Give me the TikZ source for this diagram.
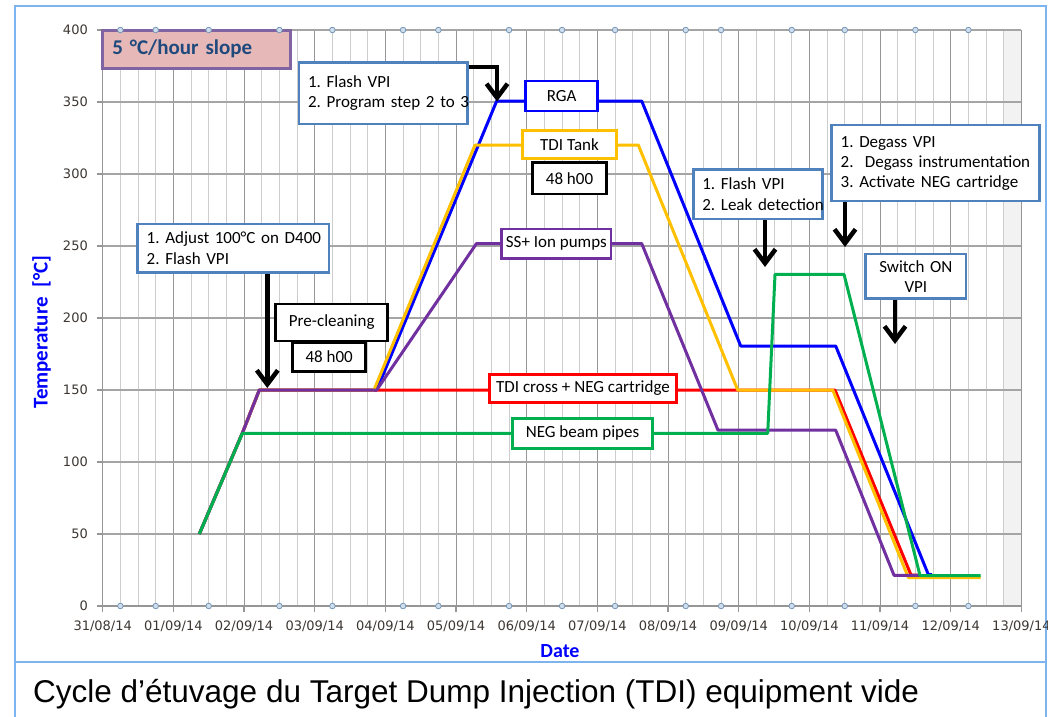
\documentclass[tikz,border=0pt]{standalone}
\usepackage{fontspec}
\usetikzlibrary{arrows.meta}
\newfontfamily\calfont{Carlito}
\newfontfamily\tickfont{DejaVu Sans}
\newfontfamily\capfont{Liberation Sans}
\definecolor{frameblue}{RGB}{125,180,240}
\definecolor{callblue}{RGB}{79,129,189}
\definecolor{xblue}{RGB}{0,0,255}
\definecolor{xred}{RGB}{255,0,0}
\definecolor{xorange}{RGB}{255,192,0}
\definecolor{xpurple}{RGB}{112,48,160}
\definecolor{xgreen}{RGB}{0,176,80}
\definecolor{pinkfill}{RGB}{230,185,184}
\definecolor{pinkdraw}{RGB}{128,100,162}
\definecolor{slopetext}{RGB}{31,73,125}
\definecolor{gridmajor}{RGB}{150,150,150}
\definecolor{gridminor}{RGB}{205,205,205}
\definecolor{hgridcol}{RGB}{165,165,165}
\definecolor{ticktext}{RGB}{60,55,50}
\definecolor{markfill}{RGB}{205,222,238}
\definecolor{markdraw}{RGB}{120,150,180}
\definecolor{shadecol}{RGB}{242,242,242}
\frenchspacing
\begin{document}
\begin{tikzpicture}[x=1pt,y=-1pt,
  boxtext/.style={font=\calfont\fontsize{17}{20}\selectfont, text=black},
  callout/.style={boxtext, draw=callblue, line width=2.5pt, fill=white, align=left, inner ysep=0pt, inner xsep=9pt},
  tagbox/.style={boxtext, line width=2.5pt, fill=white, inner sep=0pt},
  slopebox/.style={draw=pinkdraw, fill=pinkfill, line width=3pt, inner ysep=0pt, inner xsep=10pt, align=left,
    font=\calfont\bfseries\fontsize{21}{24}\selectfont, text=slopetext},
  curve/.style={line width=3pt, line join=round},
  bigarrow/.style={line width=4.5pt, -{Straight Barb[length=14pt,width=21pt]}},
  gridmaj/.style={draw=gridmajor, line width=1pt},
  gridmin/.style={draw=gridminor, line width=1pt},
  hgrid/.style={draw=hgridcol, line width=1.2pt},
  axisline/.style={draw=gridmajor, line width=1.2pt},
  ticklab/.style={font=\tickfont\fontsize{13}{15}\selectfont, text=ticktext, inner sep=0pt},
  axtitle/.style={font=\calfont\bfseries\fontsize{20}{22}\selectfont, text=xblue, inner sep=0pt},
  markcirc/.style={draw=markdraw, fill=markfill, line width=0.8pt},
  frameline/.style={draw=frameblue, line width=2.5pt}
]
\useasboundingbox (0,0) rectangle (1048,716);
\fill[white] (0,0) rectangle (1048,716);
% frames
\draw[frameline] (15,717) -- (15,6) -- (1046,6) -- (1046,717);
\draw[frameline] (15,662) -- (1046,662);
% plot area
\fill[shadecol] (1003.7,30) rectangle (1020.7,606);
\foreach \q in {1,...,52}{
  \pgfmathtruncatemacro\isday{mod(\q,4)==0 ? 1 : 0}
  \ifnum\isday=1
    \draw[gridmaj] ({102.7+17.6675*\q},30) -- ({102.7+17.6675*\q},606);
  \else
    \draw[gridmin] ({102.7+17.6675*\q},30) -- ({102.7+17.6675*\q},606);
  \fi
}
\foreach \k in {1,...,8}{
  \draw[hgrid] (102.7,{606-72*\k}) -- (1020.7,{606-72*\k});
}
\draw[axisline] (102.7,30) -- (102.7,606) -- (1020.7,606);
\foreach \k [evaluate=\k as \v using int(50*\k)] in {0,...,8}{
  \draw[axisline] (96.7,{606-72*\k}) -- (102.7,{606-72*\k});
  \node[ticklab, anchor=east] (yl\k) at (88,{606-72*\k}) {\v};
}
\foreach \lab [count=\i from 0] in {31/08/14,01/09/14,02/09/14,03/09/14,04/09/14,05/09/14,06/09/14,07/09/14,08/09/14,09/09/14,10/09/14,11/09/14,12/09/14,13/09/14}{
  \draw[axisline] ({102.7+70.67*\i},606) -- ({102.7+70.67*\i},612);
  \node[ticklab, anchor=base] (xl\i) at ({102.7+70.67*\i},630.5) {\lab};
}
\node[axtitle, rotate=90, font=\calfont\bfseries\fontsize{21}{24}\selectfont] (ytitle) at (41.7,332) {Temperature\ \ [°C]};
\node[axtitle] (xtitle) at (560,651) {Date};
% slope box (under the markers)
\node[slopebox, minimum width=188.4, minimum height=38.3, text width=168.4] (slope) at (196.5,49.15) {\mbox{5 °C/hour slope}};
% markers
\foreach \d in {0.25,0.75,1.5,2.5,3.25,4.25,4.75,5.75,6.5,7.25,8.25,8.75,9.75,10.5,11.5,12.25}{
  \draw[markcirc] ({102.7+70.67*\d},30) circle (2.8);
  \draw[markcirc] ({102.7+70.67*\d},606) circle (2.8);
}
% curves
\draw[curve, xblue] (199.3,534) -- (242.3,433.2) -- (259.3,390) -- (376.7,390) -- (496.7,101) -- (641.7,101) -- (740.7,346) -- (835.7,346) -- (928.3,574.5) -- (932,574.5);
\draw[curve, xred] (199.3,534) -- (242.3,433.2) -- (259.3,390) -- (835,390) -- (911,575) -- (918,575);
\draw[curve, xorange] (199.3,534) -- (242.3,433.2) -- (259.3,390) -- (374,390) -- (475,145) -- (638.3,145) -- (737.7,390) -- (832.7,390) -- (908.3,577.5) -- (980.7,577.5);
\draw[curve, xpurple] (199.3,534) -- (242.3,433.2) -- (259.3,390) -- (376.7,390) -- (476.5,243.5) -- (641.7,243.5) -- (718,430.2) -- (835.7,430.2) -- (894,575.3) -- (920,575.3);
\draw[curve, xgreen] (199.3,534) -- (242.3,433.4) -- (767.7,433.4) -- (775,274.3) -- (844,274.3) -- (920,575.5) -- (980.7,575.5);
% series labels
\node[tagbox, draw=xblue, minimum width=72, minimum height=30] (rga) at (561.7,96) {RGA};
\node[tagbox, draw=xorange, minimum width=94.4, minimum height=27.6] (tank) at (569.5,144.5) {TDI Tank};
\node[tagbox, draw=black, minimum width=74.4, minimum height=31.3] (dur1) at (569.5,178.35) {48 h00};
\node[tagbox, draw=xpurple, minimum width=109.3, minimum height=29.3] (ss) at (556.35,243.65) {SS+ Ion pumps};
\node[tagbox, draw=black, minimum width=112, minimum height=37] (pre) at (331.7,322.5) {Pre-cleaning};
\node[tagbox, draw=black, minimum width=73, minimum height=29.4] (dur2) at (329.2,357) {48 h00};
\node[tagbox, draw=xred, minimum width=187.4, minimum height=28.4] (cross) at (583,388.5) {TDI cross + NEG cartridge};
\node[tagbox, draw=xgreen, minimum width=140.4, minimum height=30] (negbp) at (582.5,433.3) {NEG beam pipes};
% callouts
\node[callout, minimum width=168.7, minimum height=61.3, text width=150.7] (flash1) at (383.35,93.35) {\mbox{1. Flash VPI}\\\mbox{2. Program step 2 to 3}};
\node[callout, minimum width=191.3, minimum height=48.3, text width=173.3, font=\calfont\fontsize{17}{21}\selectfont] (adjust) at (233.35,248.15) {\mbox{1. Adjust 100°C on D400}\\\mbox{2. Flash VPI}};
\node[callout, minimum width=129.4, minimum height=49.7, text width=111.4, font=\calfont\fontsize{17}{21}\selectfont] (leak) at (758,194.15) {\mbox{1. Flash VPI}\\\mbox{2. Leak detection}};
\node[callout, minimum width=207.6, minimum height=76, text width=189.6] (degas) at (935.5,163) {\mbox{1. Degass VPI}\\\mbox{2.\ \ Degass instrumentation}\\\mbox{3. Activate NEG cartridge}};
\node[callout, align=center, minimum width=100.3, minimum height=44.3, text width=82.3] (switch) at (915.85,276.15) {Switch ON\\VPI};
% arrows
\coordinate (tip1) at (497,101.5);
\coordinate (tip2) at (267.3,388);
\coordinate (tip3) at (765,267);
\coordinate (tip4) at (845,247);
\coordinate (tip5) at (895,344);
\draw[bigarrow] ([yshift=-5.6pt]flash1.north east) -| (tip1);
\draw[bigarrow] (tip2 |- adjust.south) -- (tip2);
\draw[bigarrow] (tip3 |- leak.south) -- (tip3);
\draw[bigarrow] (tip4 |- degas.south) -- (tip4);
\draw[bigarrow] (tip5 |- switch.south) -- (tip5);
% caption
\node[anchor=base west, inner sep=0pt, font=\capfont\fontsize{31.5}{36}\selectfont] (caption) at (33,702.7) {Cycle d’étuvage du Target Dump Injection (TDI) equipment vide};
\end{tikzpicture}
\end{document}
